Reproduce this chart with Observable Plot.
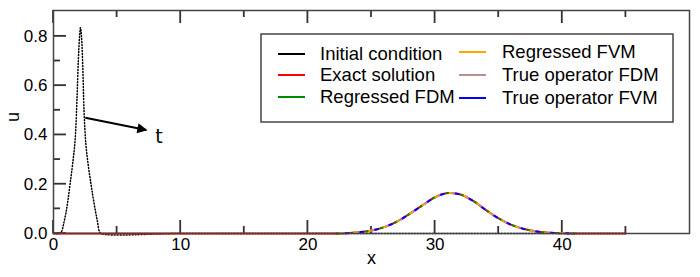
<!DOCTYPE html>
<html><head><meta charset="utf-8">
<script src="https://cdn.jsdelivr.net/npm/d3@7"></script>
<script src="https://cdn.jsdelivr.net/npm/@observablehq/plot@0.6"></script>
<style>body{margin:0;background:#fff}</style>
</head><body><div id="chart"></div>
<script>
// Initial condition (dotted black)
const icX = [0, 0.5, 0.65, 0.8, 1.0, 1.15, 1.3, 1.5, 1.7, 1.85, 1.95, 2.05, 2.12, 2.2, 2.3, 2.4, 2.55, 2.75, 2.95, 3.1, 3.3, 3.45, 3.6, 3.75, 10, 20, 30, 40, 45];
const icU = [0, 0, 0.01, 0.04, 0.09, 0.14, 0.2, 0.28, 0.38, 0.55, 0.7, 0.8, 0.835, 0.8, 0.68, 0.5, 0.36, 0.27, 0.2, 0.15, 0.09, 0.05, 0.01, 0, 0, 0, 0, 0, 0];
// Solution at final time (all methods overlap)
const solX = [0, 10, 20, 22, 23, 24, 25, 26, 27, 28, 29, 30, 31, 32, 33, 34, 35, 36, 37, 38, 39, 40, 41, 45];
const exactU = [0, 0, 0, 0, 0.001, 0.005, 0.012, 0.026, 0.048, 0.08, 0.114, 0.147, 0.164, 0.158, 0.132, 0.095, 0.061, 0.035, 0.018, 0.008, 0.003, 0.001, 0, 0];
const regFdmU = exactU.slice();
const regFvmU = exactU.slice();
const trueFdmU = exactU.slice();
const trueFvmU = exactU.slice();

const seriesNames = ["Initial condition", "Exact solution", "Regressed FDM", "Regressed FVM", "True operator FDM", "True operator FVM"];
const seriesColors = ["#000000", "#ff0000", "#008a00", "#ffa500", "#bc8f8f", "#0000ff"];

const xMajor = [0, 10, 20, 30, 40];
const xMinor = [5, 15, 25, 35, 45];
const yMajor = [0, 0.2, 0.4, 0.6, 0.8];
const yMinor = [0.1, 0.3, 0.5, 0.7];

const arrowData = [{x1: 2.5, y1: 0.47, x2: 7.3, y2: 0.42}];
const arrowLabel = [{x: 8.0, y: 0.39, t: "t"}];

const font = "'Liberation Sans', Arial, sans-serif";

const ic = icX.map((x, i) => ({x, u: icU[i]}));
const mk = arr => solX.map((x, i) => ({x, u: arr[i]}));
const overlay = arr => mk(arr).filter(d => d.x >= 22 && d.x <= 41);

const axisColor = "#444";
const W = 700, H = 277, mL = 53, mR = 11, mT = 10, mB = 44;
const innerW = W - mL - mR, innerH = H - mT - mB;
const xDom = [0, 50], yDom = [0, 0.905];
// pixel -> data unit factors for tick sizes
const py = (yDom[1] - yDom[0]) / innerH, px = (xDom[1] - xDom[0]) / innerW;
const tw = 1.8; // tick thickness in px
const tickFill = {fill: "#333"};
const vTicks = (vals, ya, yb) => Plot.rect(vals, {x1: d => d - tw / 2 * px, x2: d => d + tw / 2 * px, y1: () => ya, y2: () => yb, ...tickFill});
const hTicks = (vals, xa, xb) => Plot.rect(vals, {y1: d => d - tw / 2 * py, y2: d => d + tw / 2 * py, x1: () => xa, x2: () => xb, ...tickFill});
const plot = Plot.plot({
  width: W, height: H,
  marginLeft: mL, marginRight: mR, marginTop: mT, marginBottom: mB,
  style: {fontFamily: font, fontSize: "18px", background: "#fff", color: "#000"},
  x: {domain: xDom, label: null},
  y: {domain: yDom, label: null},
  marks: [
    Plot.axisX(xMajor, {anchor: "bottom", tickSize: 0, tickPadding: 4, label: null, fontSize: 17}),
    Plot.axisY(yMajor, {anchor: "left", tickSize: 0, tickPadding: 6, label: null, fontSize: 17}),
    vTicks(xMajor, yDom[0], yDom[0] + 13 * py),
    vTicks(xMinor, yDom[0], yDom[0] + 7 * py),
    vTicks(xMajor, yDom[1], yDom[1] - 13 * py),
    vTicks(xMinor, yDom[1], yDom[1] - 7 * py),
    hTicks(yMajor, xDom[0], xDom[0] + 13 * px),
    hTicks(yMinor, xDom[0], xDom[0] + 7 * px),
    Plot.line(ic, {x: "x", y: "u", stroke: seriesColors[0], strokeWidth: 1.5, strokeDasharray: "1,2", curve: "catmull-rom"}),
    Plot.line(mk(exactU), {x: "x", y: "u", stroke: seriesColors[1], strokeWidth: 2, curve: "catmull-rom"}),
    Plot.line(overlay(regFdmU), {x: "x", y: "u", stroke: seriesColors[2], strokeWidth: 2, strokeDasharray: "3,12", strokeDashoffset: 12, curve: "catmull-rom"}),
    Plot.line(overlay(regFvmU), {x: "x", y: "u", stroke: seriesColors[3], strokeWidth: 2, strokeDasharray: "3,12", strokeDashoffset: 9, curve: "catmull-rom"}),
    Plot.line(overlay(trueFdmU), {x: "x", y: "u", stroke: seriesColors[4], strokeWidth: 2, strokeDasharray: "3,12", strokeDashoffset: 6, curve: "catmull-rom"}),
    Plot.line(overlay(trueFvmU), {x: "x", y: "u", stroke: seriesColors[5], strokeWidth: 2, strokeDasharray: "3,12", strokeDashoffset: 3, curve: "catmull-rom"}),
    Plot.frame({stroke: axisColor, strokeWidth: 1.5}),
    Plot.link(arrowData, {x1: "x1", y1: "y1", x2: "x2", y2: "y2", stroke: "#000", strokeWidth: 2}),
    Plot.text(arrowLabel, {x: "x", y: "y", text: "t", fontFamily: "'DejaVu Sans', sans-serif", fontSize: 19, textAnchor: "start"}),
    Plot.text(["x"], {frameAnchor: "bottom", dy: 30, fontSize: 18}),
    Plot.text(["u"], {frameAnchor: "left", dx: -40, rotate: -90, fontSize: 18})
  ]
});

const svg = d3.select(plot);
// Arrow head
const defs = svg.append("defs");
defs.append("marker").attr("id", "ahead").attr("viewBox", "0 0 10 10")
  .attr("refX", 9).attr("refY", 5).attr("markerWidth", 7).attr("markerHeight", 5)
  .attr("markerUnits", "strokeWidth").attr("orient", "auto")
  .append("path").attr("d", "M0,0L10,5L0,10Z").attr("fill", "#000");
svg.selectAll("g[aria-label=link] path").attr("marker-end", "url(#ahead)");

// Legend
const lg = svg.append("g").attr("font-family", font).attr("font-size", 18.5).attr("text-anchor", "start");
lg.append("rect").attr("x", 261).attr("y", 34).attr("width", 412).attr("height", 88)
  .attr("fill", "#fff").attr("stroke", "#444").attr("stroke-width", 1.5);
const cols = [{lx: 278, tx: 320, ys: [54, 75, 97]}, {lx: 459, tx: 502, ys: [52, 75, 98]}];
seriesNames.forEach((name, i) => {
  const c = cols[Math.floor(i / 3)], y = c.ys[i % 3];
  lg.append("line").attr("x1", c.lx).attr("x2", c.lx + 27).attr("y1", y).attr("y2", y)
    .attr("stroke", seriesColors[i]).attr("stroke-width", 2);
  lg.append("text").attr("x", c.tx).attr("y", y).attr("dy", "0.35em").attr("text-anchor", "start").text(name);
});

document.getElementById("chart").appendChild(plot);
</script>
</body></html>
